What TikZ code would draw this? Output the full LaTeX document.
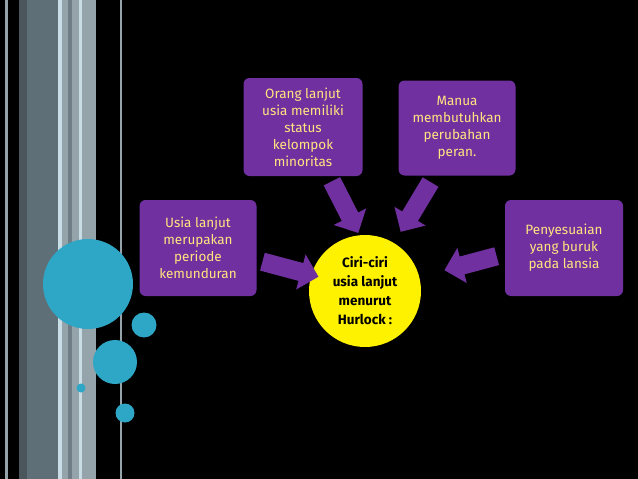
\documentclass[tikz,border=0pt]{standalone}
\usepackage{fontspec}
\setmainfont{Fira Sans}
\usetikzlibrary{shapes.arrows}
\definecolor{purp}{HTML}{7030A0}
\definecolor{txt}{HTML}{FFE680}
\definecolor{cyanb}{HTML}{2EA6C6}
\definecolor{slate}{HTML}{5F6F77}
\definecolor{slated}{HTML}{4A565C}
\definecolor{greyb}{HTML}{95A3AA}
\definecolor{lightb}{HTML}{C8DDE6}
\begin{document}
\begin{tikzpicture}[x=1pt,y=1pt,
  box/.style={fill=purp,rounded corners=6pt,text=txt,align=center,font=\fontsize{13.5}{17}\selectfont,inner sep=2pt},
  arr/.style={single arrow,fill=purp,single arrow head extend=9pt,inner xsep=0pt,inner ysep=9pt,text height=0pt,text depth=0pt}]
\fill[black] (0,0) rectangle (638,-479);
\useasboundingbox (0,0) rectangle (638,-479);
% stripes
\fill[greyb] (5,0) rectangle (8,-479);
\fill[slate] (19,0) rectangle (58,-479);
\fill[slated] (19,0) rectangle (27,-479);
\fill[lightb] (58,0) rectangle (62,-479);
\fill[greyb] (62,0) rectangle (96,-479);
\fill[slate!70!greyb] (68,0) rectangle (72,-479);
\fill[lightb] (79,0) rectangle (82,-479);
\fill[greyb] (120,0) rectangle (121.5,-479);
% circles
\fill[cyanb] (88,-284) circle (45);
\fill[cyanb] (144,-325) circle (12.5);
\fill[cyanb] (115,-362) circle (22);
\fill[cyanb] (81,-388) circle (4.5);
\fill[cyanb] (125,-413) circle (9.5);
% boxes
\node[box,minimum width=117pt,minimum height=96pt] (l) at (198,-248) {Usia lanjut\\merupakan\\periode\\kemunduran};
\node[box,minimum width=119pt,minimum height=98pt] (tl) at (303,-127) {Orang lanjut\\usia memiliki\\status\\kelompok\\minoritas};
\node[box,minimum width=117pt,minimum height=95pt] (tr) at (457,-128) {Manua\\membutuhkan\\perubahan\\peran.};
\node[box,minimum width=118pt,minimum height=96pt] (r) at (564,-248) {Penyesuaian\\yang buruk\\pada lansia};
\node[circle,fill=yellow,minimum size=112pt,align=center,font=\bfseries\fontsize{13.5}{19}\selectfont] (c) at (365,-291) {Ciri-ciri\\usia lanjut\\menurut\\Hurlock :};
% arrows
\node[arr,minimum height=58pt,rotate=-15] (a1) at (286,-268) {};
\node[arr,minimum height=58pt,rotate=-63] (a2) at (343,-203) {};
\node[arr,minimum height=58pt,rotate=-121] (a3) at (418,-203) {};
\node[arr,minimum height=54pt,rotate=195] (a4) at (475,-262) {};
\end{tikzpicture}
\end{document}
